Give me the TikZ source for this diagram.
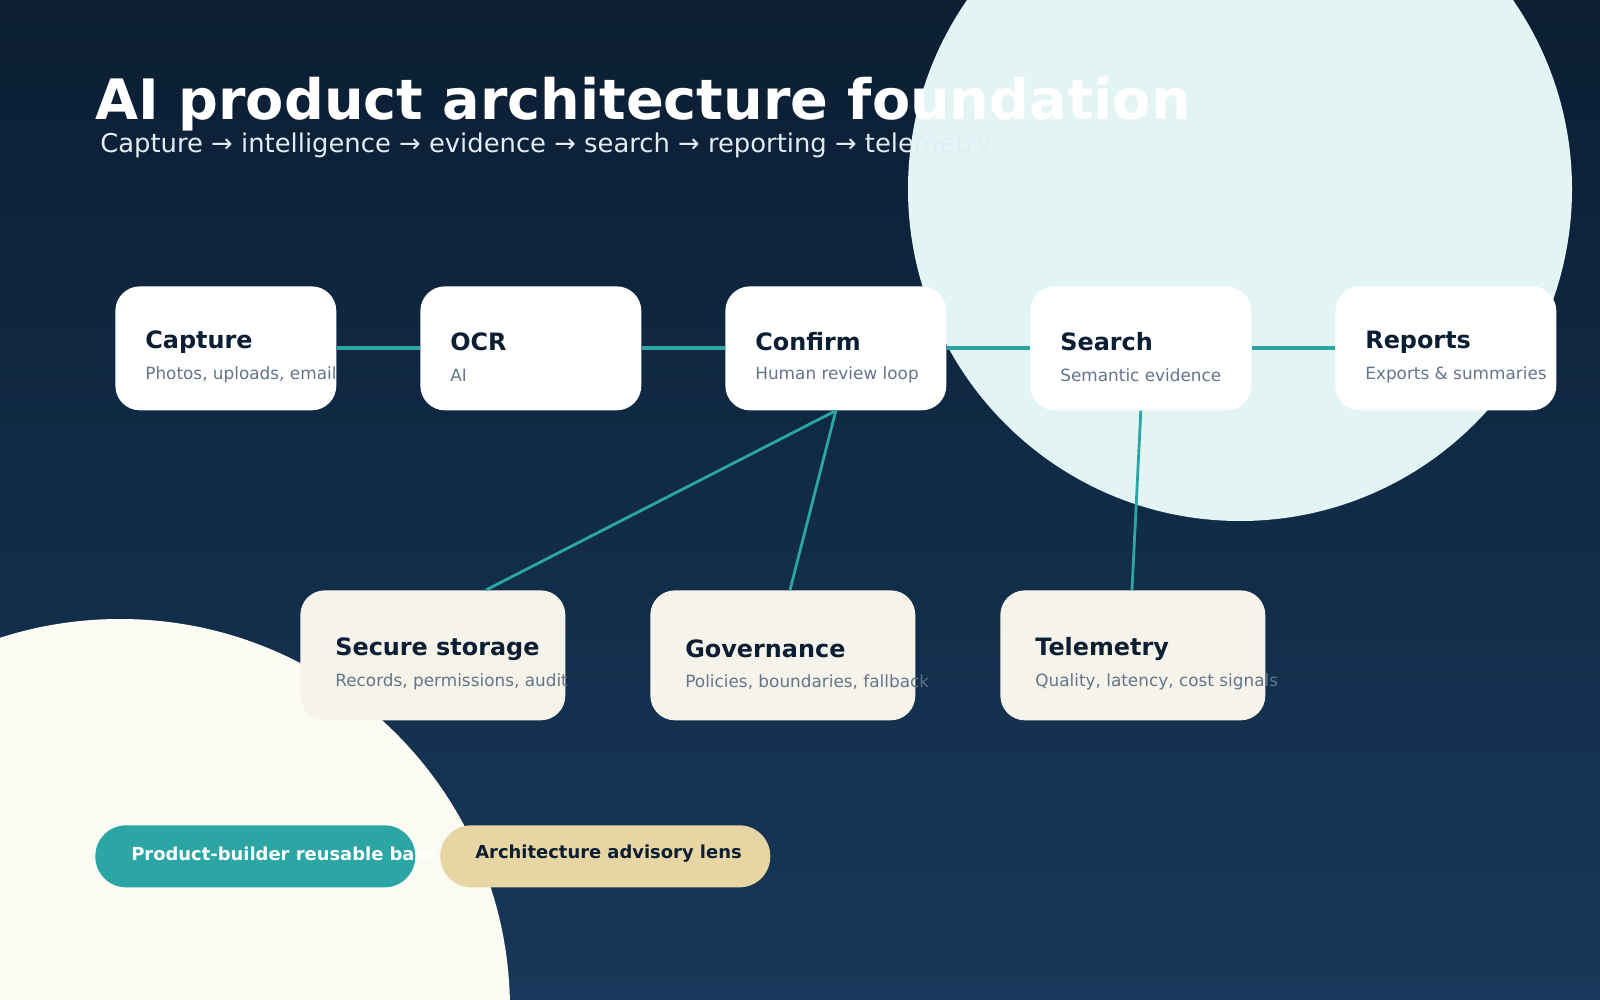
\documentclass[tikz,border=0pt]{standalone}
\usepackage{fontspec}
\setmainfont{DejaVu Sans}
\begin{document}
\begin{tikzpicture}[x=0.02cm,y=-0.02cm,
  card/.style={rounded corners=14pt,minimum width=4.42cm,minimum height=2.48cm,inner sep=0,anchor=north west},
  top/.style={card,fill=white},
  bot/.style={card,fill=cream,minimum width=5.3cm,minimum height=2.6cm},
  ttl/.style={anchor=west,inner sep=0,font=\bfseries\fontsize{13.6}{15}\selectfont,text=navy},
  sub/.style={anchor=west,inner sep=0,font=\fontsize{9.6}{11}\selectfont,text=slate},
  link/.style={draw=teal2,line width=2.2pt},
  pill/.style={rounded corners=17.5pt,minimum height=1.24cm,inner sep=0,anchor=north west}]
\definecolor{navy}{HTML}{0B1E33}
\definecolor{slate}{HTML}{64748B}
\definecolor{teal2}{HTML}{2CA6A4}
\definecolor{cream}{HTML}{F6F4EA}
\definecolor{tan}{HTML}{E8D5A4}
\definecolor{bgtop}{HTML}{0B1E33}
\definecolor{bgbot}{HTML}{17385A}
\useasboundingbox (0,0) rectangle (1600,1000);
\shade[top color=bgtop,bottom color=bgbot] (0,0) rectangle (1600,1000);
\begin{scope}
\clip (0,0) rectangle (1600,1000);
\fill[color={rgb,255:red,226;green,244;blue,244}] (1240,189) circle[radius=332];
\fill[color={rgb,255:red,251;green,250;blue,243}] (120,1009) circle[radius=390];
\end{scope}
\node[anchor=base west,inner sep=0,text=white,font=\bfseries\fontsize{31.7}{36}\selectfont] (title) at (95,120) {AI product architecture foundation};
\node[anchor=base west,inner sep=0,text={rgb,255:red,226;green,236;blue,244},font=\fontsize{14.7}{17}\selectfont] (subt) at (100,153) {Capture → intelligence → evidence → search → reporting → telemetry};
% top cards
\foreach \n/\x/\t/\s in {c1/115/Capture/{Photos, uploads, email},c2/420/OCR / AI/Extract \& classify,c3/725/Confirm/Human review loop,c4/1030/Search/Semantic evidence,c5/1335/Reports/Exports \& summaries}{
  \node[top] (\n) at (\x,286) {};
  \node[ttl] (\n t) at (\x+30,342) {\t};
  \node[sub] (\n s) at (\x+30,375) {\s};
}
\foreach \n/\x/\t/\s in {b1/300/Secure storage/{Records, permissions, audit},b2/650/Governance/{Policies, boundaries, fallback},b3/1000/Telemetry/{Quality, latency, cost signals}}{
  \node[bot] (\n) at (\x,590) {};
  \node[ttl] (\n t) at (\x+35,649) {\t};
  \node[sub] (\n s) at (\x+35,682) {\s};
}
\draw[link] (c1.east) -- (c2.west);
\draw[link] (c2.east) -- (c3.west);
\draw[link] (c3.east) -- (c4.west);
\draw[link] (c4.east) -- (c5.west);
\coordinate (s1) at (486,590);
\coordinate (s2) at (790,590);
\coordinate (s3) at (1132,590);
\draw[link,line width=1.6pt] (c3.south) -- (s1);
\draw[link,line width=1.6pt] (c3.south) -- (s2);
\draw[link,line width=1.6pt] (c4.south) -- (s3);
% pills
\node[pill,fill=teal2,minimum width=6.4cm] (p1) at (95,825) {};
\node[anchor=west,inner sep=0,text=white,font=\bfseries\fontsize{10.2}{12}\selectfont] (p1t) at (131,854) {Product-builder reusable base};
\node[pill,fill=tan,minimum width=6.6cm] (p2) at (440,825) {};
\node[anchor=west,inner sep=0,text=navy,font=\bfseries\fontsize{10.2}{12}\selectfont] (p2t) at (475,854) {Architecture advisory lens};
\end{tikzpicture}
\end{document}
